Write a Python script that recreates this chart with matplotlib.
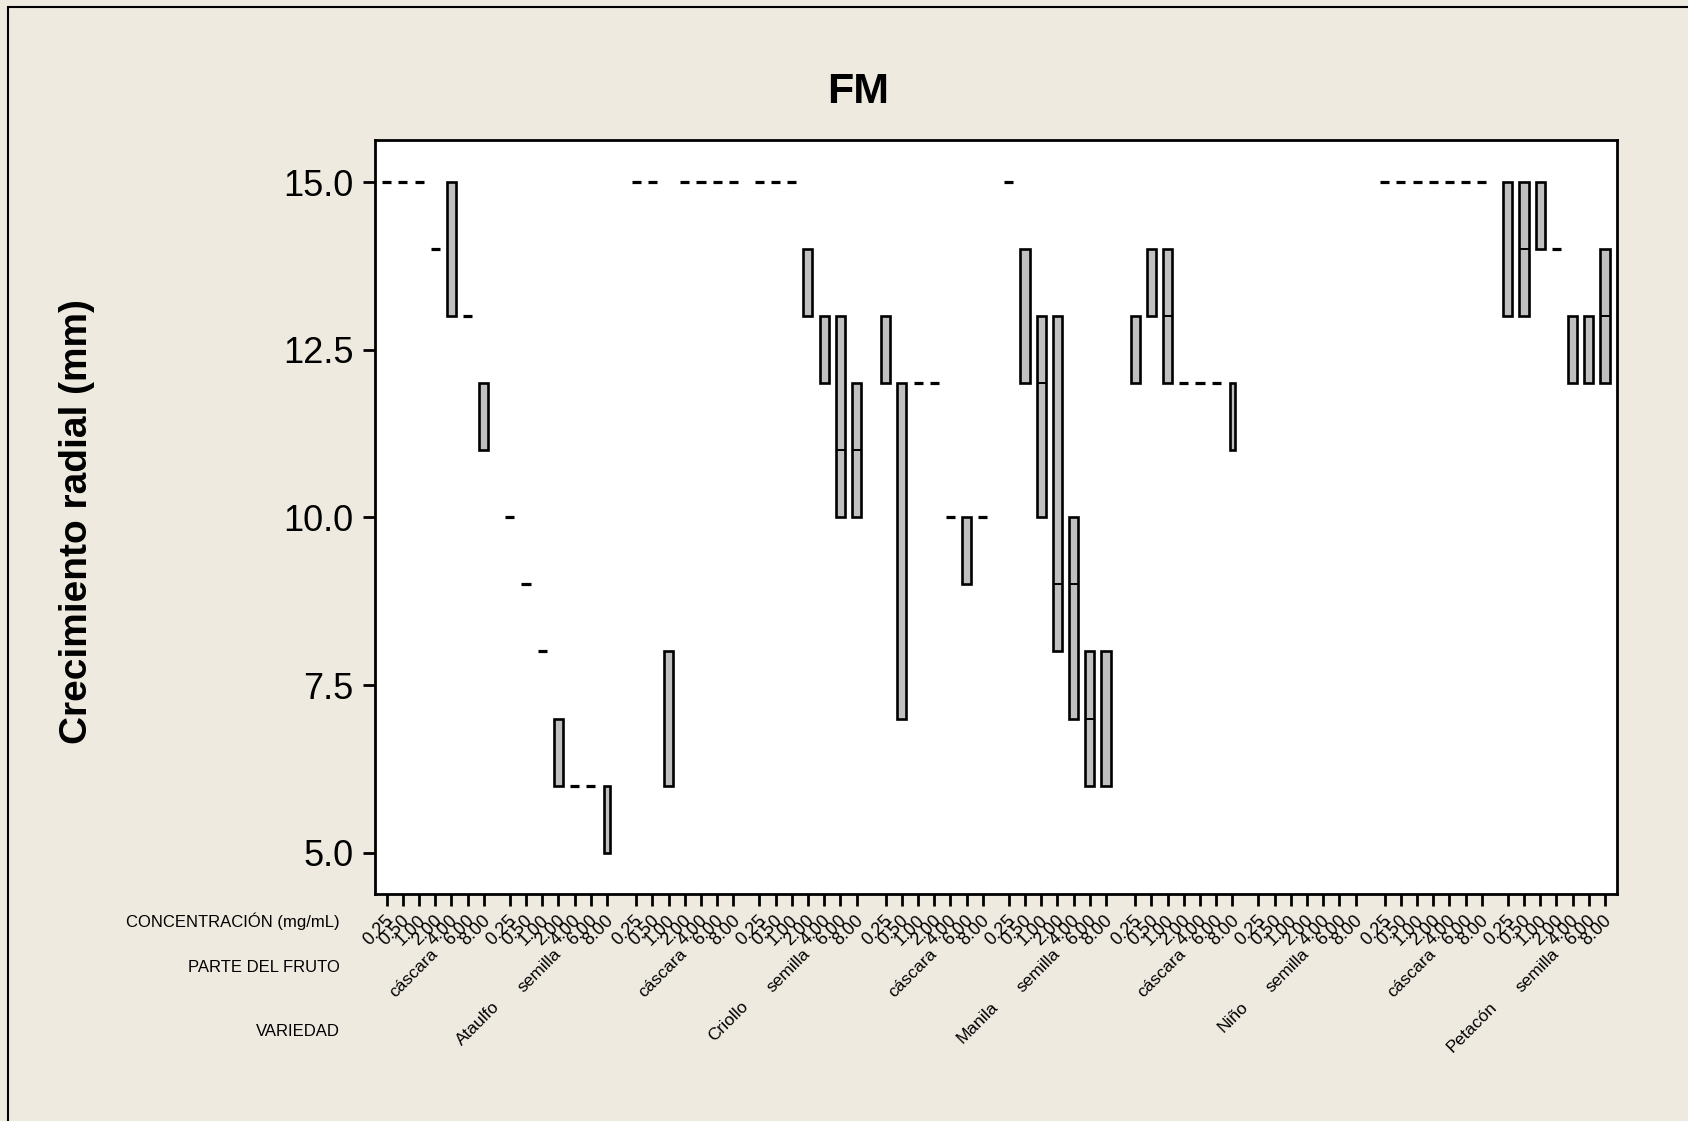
import numpy as np
import matplotlib
matplotlib.use("Agg")
import matplotlib.pyplot as plt
from matplotlib.patches import Rectangle

# ---------------- data ----------------
varieties = ["Ataulfo", "Criollo", "Manila", "Niño", "Petacón"]
parts = ["cáscara", "semilla"]
concentrations = ["0.25", "0.50", "1.00", "2.00", "4.00", "6.00", "8.00"]

nan = np.nan
# each list: 7 cáscara values followed by 7 semilla values
ataulfo_q1  = [15, 15, 15, 14, 13, 13, 11,   10, 9, 8, 6, 6, 6, 5]
ataulfo_med = [15, 15, 15, 14, 15, 13, 12,   10, 9, 8, 7, 6, 6, 6]
ataulfo_q3  = [15, 15, 15, 14, 15, 13, 12,   10, 9, 8, 7, 6, 6, 6]

criollo_q1  = [15, 15, 6, 15, 15, 15, 15,    15, 15, 15, 13, 12, 10, 10]
criollo_med = [15, 15, 8, 15, 15, 15, 15,    15, 15, 15, 14, 13, 11, 11]
criollo_q3  = [15, 15, 8, 15, 15, 15, 15,    15, 15, 15, 14, 13, 13, 12]

manila_q1   = [12, 7, 12, 12, 10, 9, 10,     15, 12, 10, 8, 7, 6, 6]
manila_med  = [13, 12, 12, 12, 10, 10, 10,   15, 14, 12, 9, 9, 7, 8]
manila_q3   = [13, 12, 12, 12, 10, 10, 10,   15, 14, 13, 13, 10, 8, 8]

nino_q1     = [12, 13, 12, 12, 12, 12, 11,   nan, nan, nan, nan, nan, nan, nan]
nino_med    = [13, 14, 13, 12, 12, 12, 12,   nan, nan, nan, nan, nan, nan, nan]
nino_q3     = [13, 14, 14, 12, 12, 12, 12,   nan, nan, nan, nan, nan, nan, nan]

petacon_q1  = [15, 15, 15, 15, 15, 15, 15,   13, 13, 14, 14, 12, 12, 12]
petacon_med = [15, 15, 15, 15, 15, 15, 15,   15, 14, 15, 14, 13, 13, 13]
petacon_q3  = [15, 15, 15, 15, 15, 15, 15,   15, 15, 15, 14, 13, 13, 14]

q1_all = [ataulfo_q1, criollo_q1, manila_q1, nino_q1, petacon_q1]
med_all = [ataulfo_med, criollo_med, manila_med, nino_med, petacon_med]
q3_all = [ataulfo_q3, criollo_q3, manila_q3, nino_q3, petacon_q3]

# boxes drawn narrower in the reference (variety, part, concentration)
narrow_boxes = [("Ataulfo", "semilla", "8.00"), ("Niño", "cáscara", "8.00")]

# ---------------- style ----------------
BG = "#EEEAE0"
BOX_FILL = "#C0C0C0"
FONT = "Liberation Sans"
plt.rcParams["font.family"] = [FONT, "DejaVu Sans"]

W, H = 1688, 1121
fig = plt.figure(figsize=(W / 100, H / 100), dpi=100, facecolor=BG)

# figure frame (left & top visible)
fig.patches.append(Rectangle((8 / W, -0.05), 1.2, 1 - 7 / H + 0.05,
                             transform=fig.transFigure, fill=False,
                             edgecolor="black", linewidth=1.5, zorder=0))

ax_left, ax_right = 375 / W, 1616.7 / W
ax_top, ax_bottom = 1 - 140 / H, 1 - 893.5 / H
ax = fig.add_axes([ax_left, ax_bottom, ax_right - ax_left, ax_top - ax_bottom])
ax.set_facecolor("white")

# x positions: step 1 within a group, larger gaps between parts / varieties
PART_GAP, VAR_GAP = 1.6, 1.8
group_starts = []
u = 0.0
for v in range(len(varieties)):
    for p in range(len(parts)):
        group_starts.append(u)
        u += (len(concentrations) - 1) + (PART_GAP if p == 0 else VAR_GAP)

BOX_W, NARROW_W = 0.56, 0.32
tick_pos = []
tick_lab = []
for v, var in enumerate(varieties):
    for p, part in enumerate(parts):
        g = v * 2 + p
        for k, c in enumerate(concentrations):
            x = group_starts[g] + k
            tick_pos.append(x)
            tick_lab.append(c)
            i = p * 7 + k
            lo, md, hi = q1_all[v][i], med_all[v][i], q3_all[v][i]
            if np.isnan(lo):
                continue
            w = NARROW_W if (var, part, c) in narrow_boxes else BOX_W
            lw = 2.3 if hi == lo else 1.9
            ax.bar(x, hi - lo, bottom=lo, width=w, color=BOX_FILL,
                   edgecolor="black", linewidth=lw, zorder=3)
            if lo < md < hi:
                ax.hlines(md, x - w / 2, x + w / 2, color="black",
                          linewidth=1.4, zorder=4)

ax.set_xlim(tick_pos[0] - 0.72, tick_pos[-1] + 0.72)
ax.set_ylim(4.39, 15.63)
ax.set_yticks([5.0, 7.5, 10.0, 12.5, 15.0])
ax.set_yticklabels(["5.0", "7.5", "10.0", "12.5", "15.0"], fontsize=26)
ax.set_xticks(tick_pos)
ax.set_xticklabels([])
ax.tick_params(axis="both", direction="out", length=8.6, width=2.0)
ax.tick_params(axis="y", pad=7)
for s in ax.spines.values():
    s.set_linewidth(2.0)

xt = ax.get_xaxis_transform()
# concentration labels
for x, lab in zip(tick_pos, tick_lab):
    ax.text(x + 0.25, -0.033, lab, transform=xt, rotation=45, ha="right",
            va="center", rotation_mode="anchor", fontsize=13, clip_on=False)
# part labels
for v in range(len(varieties)):
    for p, part in enumerate(parts):
        g = v * 2 + p
        cx = group_starts[g] + 3
        ax.text(cx, -0.077, part, transform=xt, rotation=45, ha="right",
                va="center", rotation_mode="anchor", fontsize=12.5, clip_on=False)
# variety labels
for v, var in enumerate(varieties):
    cx = (group_starts[2 * v] + group_starts[2 * v + 1] + 6) / 2
    ax.text(cx, -0.147, var, transform=xt, rotation=45, ha="right",
            va="center", rotation_mode="anchor", fontsize=12.5, clip_on=False)

# row headers
fig.text(340 / W, 1 - 921.5 / H, "CONCENTRACIÓN (mg/mL)", ha="right",
         va="center", fontsize=12)
fig.text(340 / W, 1 - 968 / H, "PARTE DEL FRUTO", ha="right",
         va="center", fontsize=12)
fig.text(340 / W, 1 - 1032 / H, "VARIEDAD", ha="right", va="center",
         fontsize=12)

# title and y label
fig.text(858 / W, 1 - 92 / H, "FM", ha="center", va="center",
         fontsize=31, fontweight="bold")
fig.text(77 / W, 1 - 522 / H, "Crecimiento radial (mm)", ha="center",
         va="center", rotation=90, fontsize=28, fontweight="bold")

fig.savefig("out.png", dpi=100, facecolor=BG)
